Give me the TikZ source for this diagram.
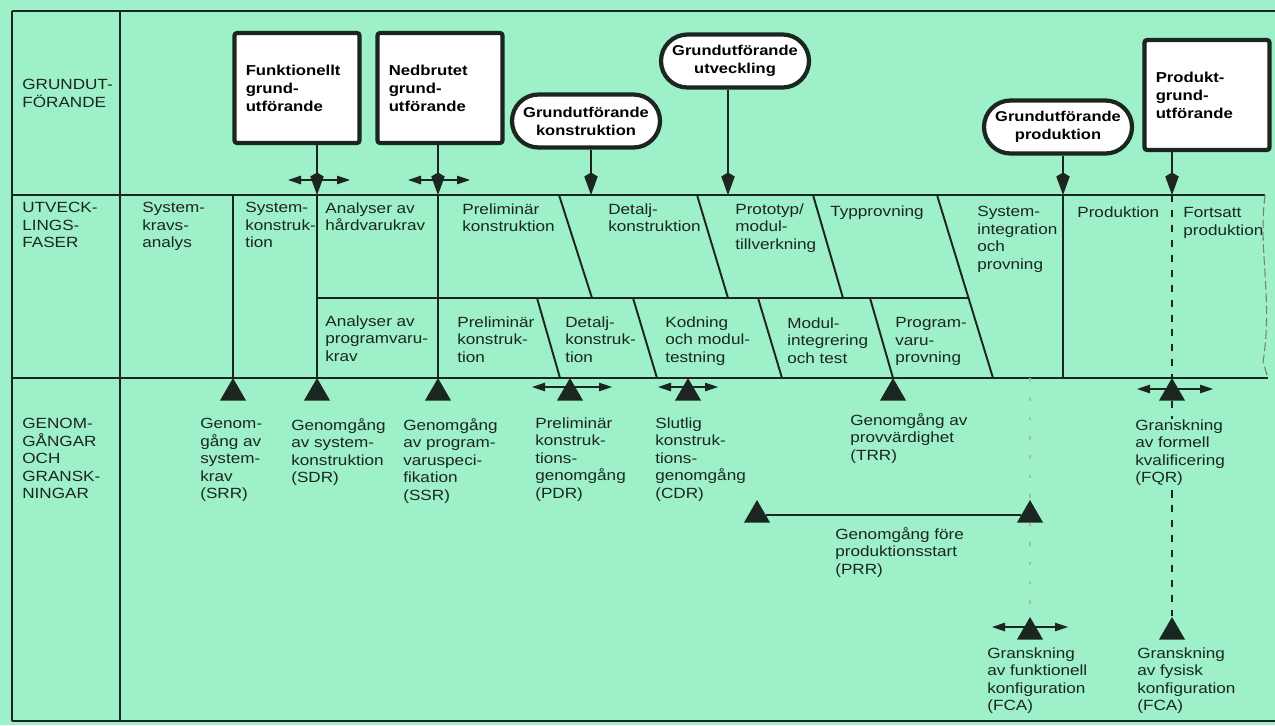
\documentclass[tikz,border=0pt]{standalone}
\usepackage{fontspec}
\setmainfont{Liberation Sans}[FakeStretch=1.16]
\usetikzlibrary{arrows.meta,shapes.geometric}
\definecolor{mint}{RGB}{157,240,200}
\definecolor{ink}{RGB}{28,38,32}

\begin{document}
\begin{tikzpicture}[x=0.2mm,y=-0.2mm,
  txt/.style={anchor=north west,inner sep=0pt,align=left,text=ink,
    font=\fontsize{8.4}{10}\selectfont},
  sqbox/.style={draw=ink,fill=white,line width=2.4pt,rounded corners=1.5pt,
    minimum width=25mm,minimum height=22mm,text width=20.5mm,inner xsep=2.25mm,
    align=left,font=\bfseries\fontsize{8.2}{10.2}\selectfont},
  ovalbox/.style={draw=ink,fill=white,line width=2.4pt,rounded corners=5.3mm,
    minimum width=29.6mm,minimum height=10.6mm,inner sep=0pt,align=center,
    font=\bfseries\fontsize{8.1}{10.2}\selectfont},
  revtri/.style={regular polygon,regular polygon sides=3,fill=ink,
    minimum size=6mm,inner sep=0pt},
  down/.style={ink,line width=1.1pt,-{Kite[length=4.5mm,width=2.7mm,inset=0.8mm]}},
  twoway/.style={ink,line width=0.6pt,
    {Triangle[length=2.6mm,width=1.7mm]}-{Triangle[length=2.6mm,width=1.7mm]}}]

\fill[mint] (0,0) rectangle (1275,725);
\useasboundingbox (0,0) rectangle (1275,725);

\coordinate (srrtop) at (233,195);
\coordinate (funkfoot) at (317,195);
\coordinate (nedbfoot) at (438,195);
\coordinate (konsfoot) at (591,195);
\coordinate (utvfoot) at (728,195);
\coordinate (prodfoot) at (1063,195);
\coordinate (prgrfoot) at (1172,195);
\coordinate (fcaatop) at (1030,378);

\begin{scope}[ink,line width=1.1pt]
\draw (12,11) -- (1275,11);
\draw (12,721) -- (1275,721);
\draw (12,11) -- (12,721);
\draw (120,11) -- (120,721);
\draw (12,195) -- (1265,195);
\draw (12,378) -- (1268,378);
\draw (317,298) -- (968,298);
\draw (559,195) -- (592,298);
\draw (697,195) -- (728,298);
\draw (813,195) -- (843,298);
\draw (937,195) -- (993,378);
\draw (537,298) -- (560,378);
\draw (633,298) -- (657,378);
\draw (758,298) -- (782,378);
\draw (870,298) -- (893,378);
\draw (prodfoot) -- (1063,378);
\end{scope}

\draw[ink!60,line width=0.6pt,dash pattern=on 5pt off 2pt]
  (1265,195) .. controls (1258,250) and (1273,300) .. (1263,362) -- (1268,378);

\begin{scope}[every node/.style=revtri]
\node (srr) at (233,393) {};
\node (sdr) at (317,393) {};
\node (ssr) at (438,393) {};
\node (pdr) at (570,393) {};
\node (cdr) at (688,393) {};
\node (trr) at (893,393) {};
\node (fqr) at (1172,393) {};
\node (prra) at (757,515) {};
\node (prrb) at (1030,515) {};
\node (fcaa) at (1030,632) {};
\node (fcab) at (1172,632) {};
\end{scope}

\begin{scope}[ink,line width=1.1pt]
\draw (srrtop) -- (srr.corner 1);
\draw (funkfoot) -- (sdr.corner 1);
\draw (nedbfoot) -- (ssr.corner 1);
\draw[line width=0.7pt] (prra) -- (prrb);
\draw[line width=0.9pt,dash pattern=on 4pt off 4.5pt] (prgrfoot) -- (fqr.corner 1);
\draw[line width=0.9pt,dash pattern=on 4pt off 4.5pt] (fqr) -- (fcab.corner 1);
\draw[ink!35,line width=0.6pt,dash pattern=on 2pt off 9pt] (fcaatop) -- (prrb.corner 1);
\draw[ink!35,line width=0.6pt,dash pattern=on 2pt off 9pt] (prrb) -- (fcaa.corner 1);
\end{scope}

\node[sqbox] (funk) at (297,88) {Funktionellt\\grund-\\utförande};
\node[sqbox] (nedb) at (440,88) {Nedbrutet\\grund-\\utförande};
\node[sqbox] (prgr) at (1207,95) {Produkt-\\grund-\\utförande};
\node[ovalbox] (kons) at (586,121) {Grundutförande\\konstruktion};
\node[ovalbox] (utv) at (735,61) {Grundutförande\\utveckling};
\node[ovalbox] (prod) at (1058,127) {Grundutförande\\produktion};

\draw[down] (funk.south -| funkfoot) -- (funkfoot);
\draw[down] (nedb.south -| nedbfoot) -- (nedbfoot);
\draw[down] (kons.south -| konsfoot) -- (konsfoot);
\draw[down] (utv.south -| utvfoot) -- (utvfoot);
\draw[down] (prod.south -| prodfoot) -- (prodfoot);
\draw[down] (prgr.south -| prgrfoot) -- (prgrfoot);

\draw[twoway] ([shift={(-29,-15)}]funkfoot) -- ([shift={(33,-15)}]funkfoot);
\draw[twoway] ([shift={(-30,-15)}]nedbfoot) -- ([shift={(32,-15)}]nedbfoot);
\draw[twoway] ([shift={(-38,-6)}]pdr.center) -- ([shift={(42,-6)}]pdr.center);
\draw[twoway] ([shift={(-30,-6)}]cdr.center) -- ([shift={(30,-6)}]cdr.center);
\draw[twoway] ([shift={(-35,-4)}]fqr.center) -- ([shift={(41,-4)}]fqr.center);
\draw[twoway] ([shift={(-38,-5)}]fcaa.center) -- ([shift={(38,-5)}]fcaa.center);

\begin{scope}[every node/.style=txt]
\node (lgrund) at (22,79) {GRUNDUT-\\FÖRANDE};
\node (lutv) at (22,202) {UTVECK-\\LINGS-\\FASER};
\node (lgen) at (22,418) {GENOM-\\GÅNGAR\\OCH\\GRANSK-\\NINGAR};

\node (sra) at (142,202) {System-\\kravs-\\analys};
\node (skn) at (245,202) {System-\\konstruk-\\tion};
\node (ahw) at (325,202) {Analyser av\\hårdvarukrav};
\node (pkh) at (462,203) {Preliminär\\konstruktion};
\node (dkh) at (608,203) {Detalj-\\konstruktion};
\node (ptm) at (735,203) {Prototyp/\\modul-\\tillverkning};
\node (typ) at (830,205) {Typprovning};
\node (sip) at (977,206) {System-\\integration\\och\\provning};
\node (prd) at (1077,206) {Produktion};
\node (fpr) at (1183,207) {Fortsatt\\produktion};

\node (asw) at (325,315) {Analyser av\\programvaru-\\krav};
\node (pks) at (457,316) {Preliminär\\konstruk-\\tion};
\node (dks) at (565,316) {Detalj-\\konstruk-\\tion};
\node (kmt) at (665,316) {Kodning\\och modul-\\testning};
\node (mit) at (787,317) {Modul-\\integrering\\och test};
\node (pvp) at (895,317) {Program-\\varu-\\provning};

\node (srrt) at (200,418) {Genom-\\gång av\\system-\\krav\\(SRR)};
\node (sdrt) at (291,418) {Genomgång\\av system-\\konstruktion\\(SDR)};
\node (ssrt) at (403,418) {Genomgång\\av program-\\varuspeci-\\fikation\\(SSR)};
\node (pdrt) at (535,417) {Preliminär\\konstruk-\\tions-\\genomgång\\(PDR)};
\node (cdrt) at (655,417) {Slutlig\\konstruk-\\tions-\\genomgång\\(CDR)};
\node (trrt) at (850,413) {Genomgång av\\provvärdighet\\(TRR)};
\node[fill=mint] (fqrt) at (1135,419) {Granskning\\av formell\\kvalificering\\(FQR)};
\node (prrt) at (835,527) {Genomgång före\\produktionsstart\\(PRR)};
\node (fcaat) at (987,647) {Granskning\\av funktionell\\konfiguration\\(FCA)};
\node (fcabt) at (1137,647) {Granskning\\av fysisk\\konfiguration\\(FCA)};
\end{scope}

\end{tikzpicture}
\end{document}
